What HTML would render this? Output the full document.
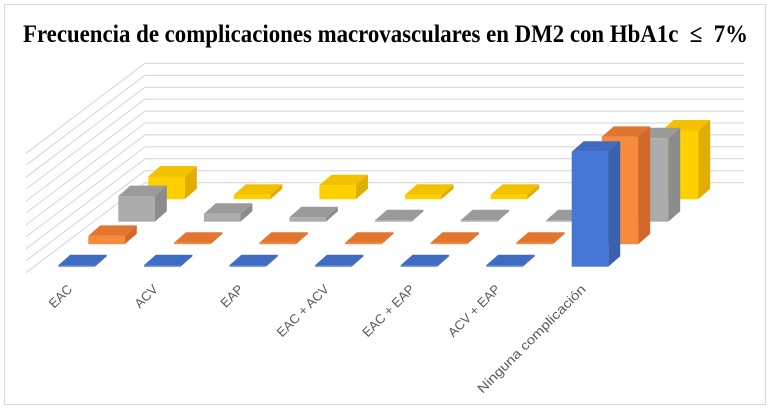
<!DOCTYPE html>
<html><head><meta charset="utf-8"><style>
html,body{margin:0;padding:0;background:#fff;}
svg{display:block;}
</style></head><body>
<svg width="772" height="409" viewBox="0 0 772 409" xmlns="http://www.w3.org/2000/svg">
<rect x="0" y="0" width="772" height="409" fill="#fff"/>
<rect x="4.5" y="4.5" width="761" height="400" fill="#fff" stroke="#d9d9d9" stroke-width="1"/>
<text x="23" y="42" font-family="Liberation Serif, serif" font-weight="bold" font-size="25" fill="#000" textLength="725" lengthAdjust="spacingAndGlyphs" xml:space="preserve">Frecuencia de complicaciones macrovasculares en DM2 con HbA1c  ≤  7%</text>
<g stroke="#d4d4d4" stroke-width="1" fill="none">
<polyline points="26,153.3 145,63.3 744,63.3"/>
<polyline points="26,165.2 145,75.2 744,75.2"/>
<polyline points="26,177.2 145,87.2 744,87.2"/>
<polyline points="26,189.1 145,99.1 744,99.1"/>
<polyline points="26,201.1 145,111.1 744,111.1"/>
<polyline points="26,213.0 145,123.0 744,123.0"/>
<polyline points="26,224.9 145,134.9 744,134.9"/>
<polyline points="26,236.9 145,146.9 744,146.9"/>
<polyline points="26,248.8 145,158.8 744,158.8"/>
<polyline points="26,260.8 145,170.8 744,170.8"/>
<polyline points="26,272.7 145,182.7 744,182.7"/>
</g>
<defs>
<g id="d"></g>
</defs>
<!-- Yellow row -->
<g>
<g transform="translate(148.3,199.2)"><rect x="0" y="-22.7" width="36.5" height="22.7" fill="#ffd000"/><polygon points="0,-22.7 36.5,-22.7 48.5,-33.2 12,-33.2" fill="#f3c100"/><polygon points="36.5,-22.7 48.5,-33.2 48.5,-10.5 36.5,0" fill="#dfae00"/></g>
<g transform="translate(233.9,199.2)"><rect x="0" y="-4.5" width="36.5" height="4.5" fill="#ffd000"/><polygon points="0,-4.5 36.5,-4.5 48.5,-15 12,-15" fill="#f3c100"/><polygon points="36.5,-4.5 48.5,-15 48.5,-10.5 36.5,0" fill="#dfae00"/></g>
<g transform="translate(319.4,199.2)"><rect x="0" y="-14" width="36.5" height="14" fill="#ffd000"/><polygon points="0,-14 36.5,-14 48.5,-24.5 12,-24.5" fill="#f3c100"/><polygon points="36.5,-14 48.5,-24.5 48.5,-10.5 36.5,0" fill="#dfae00"/></g>
<g transform="translate(405.0,199.2)"><rect x="0" y="-4.5" width="36.5" height="4.5" fill="#ffd000"/><polygon points="0,-4.5 36.5,-4.5 48.5,-15 12,-15" fill="#f3c100"/><polygon points="36.5,-4.5 48.5,-15 48.5,-10.5 36.5,0" fill="#dfae00"/></g>
<g transform="translate(490.6,199.2)"><rect x="0" y="-4.5" width="36.5" height="4.5" fill="#ffd000"/><polygon points="0,-4.5 36.5,-4.5 48.5,-15 12,-15" fill="#f3c100"/><polygon points="36.5,-4.5 48.5,-15 48.5,-10.5 36.5,0" fill="#dfae00"/></g>
<g transform="translate(576.2,199.2)"><rect x="0" y="-4.5" width="36.5" height="4.5" fill="#ffd000"/><polygon points="0,-4.5 36.5,-4.5 48.5,-15 12,-15" fill="#f3c100"/><polygon points="36.5,-4.5 48.5,-15 48.5,-10.5 36.5,0" fill="#dfae00"/></g>
<g transform="translate(661.7,199.2)"><rect x="0" y="-68.7" width="36.5" height="68.7" fill="#ffd000"/><polygon points="0,-68.7 36.5,-68.7 48.5,-79.2 12,-79.2" fill="#f3c100"/><polygon points="36.5,-68.7 48.5,-79.2 48.5,-10.5 36.5,0" fill="#dfae00"/></g>
</g>
<!-- Gray row -->
<g>
<g transform="translate(118.3,221.7)"><rect x="0" y="-25.6" width="36.5" height="25.6" fill="#acacac"/><polygon points="0,-25.6 36.5,-25.6 48.5,-36.1 12,-36.1" fill="#9b9b9b"/><polygon points="36.5,-25.6 48.5,-36.1 48.5,-10.5 36.5,0" fill="#8c8c8c"/></g>
<g transform="translate(203.9,221.7)"><rect x="0" y="-8" width="36.5" height="8" fill="#acacac"/><polygon points="0,-8 36.5,-8 48.5,-18.5 12,-18.5" fill="#9b9b9b"/><polygon points="36.5,-8 48.5,-18.5 48.5,-10.5 36.5,0" fill="#8c8c8c"/></g>
<g transform="translate(289.4,221.7)"><rect x="0" y="-4.5" width="36.5" height="4.5" fill="#acacac"/><polygon points="0,-4.5 36.5,-4.5 48.5,-15 12,-15" fill="#9b9b9b"/><polygon points="36.5,-4.5 48.5,-15 48.5,-10.5 36.5,0" fill="#8c8c8c"/></g>
<g transform="translate(375.0,221.7)"><rect x="0" y="-1.5" width="36.5" height="1.5" fill="#acacac"/><polygon points="0,-1.5 36.5,-1.5 48.5,-12 12,-12" fill="#9b9b9b"/><polygon points="36.5,-1.5 48.5,-12 48.5,-10.5 36.5,0" fill="#8c8c8c"/></g>
<g transform="translate(460.6,221.7)"><rect x="0" y="-1.5" width="36.5" height="1.5" fill="#acacac"/><polygon points="0,-1.5 36.5,-1.5 48.5,-12 12,-12" fill="#9b9b9b"/><polygon points="36.5,-1.5 48.5,-12 48.5,-10.5 36.5,0" fill="#8c8c8c"/></g>
<g transform="translate(546.2,221.7)"><rect x="0" y="-1.5" width="36.5" height="1.5" fill="#acacac"/><polygon points="0,-1.5 36.5,-1.5 48.5,-12 12,-12" fill="#9b9b9b"/><polygon points="36.5,-1.5 48.5,-12 48.5,-10.5 36.5,0" fill="#8c8c8c"/></g>
<g transform="translate(631.7,221.7)"><rect x="0" y="-83.4" width="36.5" height="83.4" fill="#acacac"/><polygon points="0,-83.4 36.5,-83.4 48.5,-93.9 12,-93.9" fill="#9b9b9b"/><polygon points="36.5,-83.4 48.5,-93.9 48.5,-10.5 36.5,0" fill="#8c8c8c"/></g>
</g>
<!-- Orange row -->
<g>
<g transform="translate(88.3,244.2)"><rect x="0" y="-8.3" width="36.5" height="8.3" fill="#f68b3c"/><polygon points="0,-8.3 36.5,-8.3 48.5,-18.8 12,-18.8" fill="#e3762f"/><polygon points="36.5,-8.3 48.5,-18.8 48.5,-10.5 36.5,0" fill="#d2692a"/></g>
<g transform="translate(173.9,244.2)"><rect x="0" y="-1.5" width="36.5" height="1.5" fill="#f68b3c"/><polygon points="0,-1.5 36.5,-1.5 48.5,-12 12,-12" fill="#e3762f"/><polygon points="36.5,-1.5 48.5,-12 48.5,-10.5 36.5,0" fill="#d2692a"/></g>
<g transform="translate(259.4,244.2)"><rect x="0" y="-1.5" width="36.5" height="1.5" fill="#f68b3c"/><polygon points="0,-1.5 36.5,-1.5 48.5,-12 12,-12" fill="#e3762f"/><polygon points="36.5,-1.5 48.5,-12 48.5,-10.5 36.5,0" fill="#d2692a"/></g>
<g transform="translate(345.0,244.2)"><rect x="0" y="-1.5" width="36.5" height="1.5" fill="#f68b3c"/><polygon points="0,-1.5 36.5,-1.5 48.5,-12 12,-12" fill="#e3762f"/><polygon points="36.5,-1.5 48.5,-12 48.5,-10.5 36.5,0" fill="#d2692a"/></g>
<g transform="translate(430.6,244.2)"><rect x="0" y="-1.5" width="36.5" height="1.5" fill="#f68b3c"/><polygon points="0,-1.5 36.5,-1.5 48.5,-12 12,-12" fill="#e3762f"/><polygon points="36.5,-1.5 48.5,-12 48.5,-10.5 36.5,0" fill="#d2692a"/></g>
<g transform="translate(516.2,244.2)"><rect x="0" y="-1.5" width="36.5" height="1.5" fill="#f68b3c"/><polygon points="0,-1.5 36.5,-1.5 48.5,-12 12,-12" fill="#e3762f"/><polygon points="36.5,-1.5 48.5,-12 48.5,-10.5 36.5,0" fill="#d2692a"/></g>
<g transform="translate(601.7,244.2)"><rect x="0" y="-107.3" width="36.5" height="107.3" fill="#f68b3c"/><polygon points="0,-107.3 36.5,-107.3 48.5,-117.8 12,-117.8" fill="#e3762f"/><polygon points="36.5,-107.3 48.5,-117.8 48.5,-10.5 36.5,0" fill="#d2692a"/></g>
</g>
<!-- Blue row -->
<g>
<g transform="translate(58.3,266.7)"><rect x="0" y="-1.5" width="36.5" height="1.5" fill="#4677d6"/><polygon points="0,-1.5 36.5,-1.5 48.5,-12 12,-12" fill="#3f6bc3"/><polygon points="36.5,-1.5 48.5,-12 48.5,-10.5 36.5,0" fill="#3a60ae"/></g>
<g transform="translate(143.9,266.7)"><rect x="0" y="-1.5" width="36.5" height="1.5" fill="#4677d6"/><polygon points="0,-1.5 36.5,-1.5 48.5,-12 12,-12" fill="#3f6bc3"/><polygon points="36.5,-1.5 48.5,-12 48.5,-10.5 36.5,0" fill="#3a60ae"/></g>
<g transform="translate(229.4,266.7)"><rect x="0" y="-1.5" width="36.5" height="1.5" fill="#4677d6"/><polygon points="0,-1.5 36.5,-1.5 48.5,-12 12,-12" fill="#3f6bc3"/><polygon points="36.5,-1.5 48.5,-12 48.5,-10.5 36.5,0" fill="#3a60ae"/></g>
<g transform="translate(315.0,266.7)"><rect x="0" y="-1.5" width="36.5" height="1.5" fill="#4677d6"/><polygon points="0,-1.5 36.5,-1.5 48.5,-12 12,-12" fill="#3f6bc3"/><polygon points="36.5,-1.5 48.5,-12 48.5,-10.5 36.5,0" fill="#3a60ae"/></g>
<g transform="translate(400.6,266.7)"><rect x="0" y="-1.5" width="36.5" height="1.5" fill="#4677d6"/><polygon points="0,-1.5 36.5,-1.5 48.5,-12 12,-12" fill="#3f6bc3"/><polygon points="36.5,-1.5 48.5,-12 48.5,-10.5 36.5,0" fill="#3a60ae"/></g>
<g transform="translate(486.2,266.7)"><rect x="0" y="-1.5" width="36.5" height="1.5" fill="#4677d6"/><polygon points="0,-1.5 36.5,-1.5 48.5,-12 12,-12" fill="#3f6bc3"/><polygon points="36.5,-1.5 48.5,-12 48.5,-10.5 36.5,0" fill="#3a60ae"/></g>
<g transform="translate(571.7,266.7)"><rect x="0" y="-115" width="36.5" height="115" fill="#4677d6"/><polygon points="0,-115 36.5,-115 48.5,-125.5 12,-125.5" fill="#3f6bc3"/><polygon points="36.5,-115 48.5,-125.5 48.5,-10.5 36.5,0" fill="#3a60ae"/></g>
</g>
<!-- Category labels -->
<g font-family="Liberation Sans, Arial, sans-serif" font-size="13" fill="#595959" text-anchor="end">
<text x="73" y="290" transform="rotate(-45 73 290)">EAC</text>
<text x="158.6" y="290" transform="rotate(-45 158.6 290)">ACV</text>
<text x="244.2" y="290" transform="rotate(-45 244.2 290)">EAP</text>
<text x="329.8" y="290" transform="rotate(-45 329.8 290)">EAC + ACV</text>
<text x="415.4" y="290" transform="rotate(-45 415.4 290)">EAC + EAP</text>
<text x="501" y="290" transform="rotate(-45 501 290)">ACV + EAP</text>
<text x="586.6" y="290" transform="rotate(-45 586.6 290)" textLength="147" lengthAdjust="spacingAndGlyphs">Ninguna complicación</text>
</g>
</svg>
</body></html>
